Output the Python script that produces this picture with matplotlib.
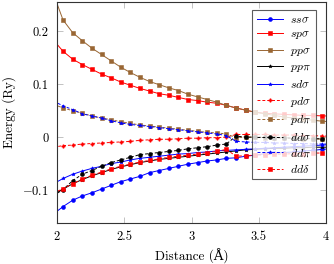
import matplotlib
matplotlib.use('Agg')
import matplotlib.pyplot as plt

plt.rcParams['font.family'] = 'serif'
plt.rcParams['font.serif'] = ['cmr10', 'DejaVu Serif']
plt.rcParams['mathtext.fontset'] = 'cm'
plt.rcParams['axes.unicode_minus'] = False
plt.rcParams['axes.formatter.use_mathtext'] = True

# distances (Angstrom)
dist = [1.974, 2.045, 2.117, 2.188, 2.259, 2.331, 2.402, 2.474, 2.545, 2.616,
        2.688, 2.759, 2.831, 2.902, 2.974, 3.045, 3.116, 3.188, 3.259, 3.331,
        3.402, 3.474, 3.545, 3.616, 3.688, 3.759, 3.831, 3.902, 3.973, 4.045]

# Slater-Koster energies (Ry)
ss_sigma = [-0.145, -0.131, -0.119, -0.111, -0.105, -0.098, -0.091, -0.084, -0.079, -0.074,
            -0.067, -0.063, -0.059, -0.055, -0.051, -0.048, -0.045, -0.043, -0.040, -0.039,
            -0.036, -0.034, -0.031, -0.030, -0.029, -0.028, -0.026, -0.025, -0.023, -0.022]
sp_sigma = [0.183, 0.162, 0.147, 0.137, 0.128, 0.119, 0.112, 0.104, 0.098, 0.092,
            0.087, 0.082, 0.079, 0.075, 0.071, 0.069, 0.066, 0.064, 0.060, 0.055,
            0.051, 0.047, 0.045, 0.044, 0.043, 0.042, 0.041, 0.041, 0.040, 0.040]
pp_sigma = [0.270, 0.221, 0.197, 0.182, 0.168, 0.156, 0.144, 0.132, 0.122, 0.113,
            0.105, 0.099, 0.093, 0.088, 0.081, 0.076, 0.071, 0.066, 0.060, 0.055,
            0.051, 0.047, 0.044, 0.041, 0.038, 0.036, 0.034, 0.032, 0.030, 0.029]
pp_pi = [-0.108, -0.098, -0.088, -0.080, -0.073, -0.067, -0.061, -0.056, -0.052, -0.048,
         -0.045, -0.042, -0.040, -0.038, -0.036, -0.034, -0.032, -0.030, -0.028, -0.026,
         -0.024, -0.023, -0.022, -0.021, -0.021, -0.020, -0.020, -0.019, -0.019, -0.019]
sd_sigma = [-0.088, -0.078, -0.070, -0.064, -0.059, -0.055, -0.050, -0.047, -0.043, -0.040,
            -0.038, -0.036, -0.034, -0.032, -0.031, -0.029, -0.028, -0.026, -0.025, -0.024,
            -0.023, -0.022, -0.021, -0.020, -0.019, -0.018, -0.017, -0.016, -0.015, -0.014]
pd_sigma = [-0.019, -0.016, -0.015, -0.013, -0.012, -0.011, -0.010, -0.009, -0.008, -0.006,
            -0.005, -0.004, -0.004, -0.003, -0.002, -0.002, -0.001, -0.001, 0.000, 0.005,
            0.005, 0.005, 0.005, 0.004, 0.004, 0.004, 0.003, 0.003, 0.002, 0.002]
pd_pi = [0.062, 0.055, 0.050, 0.045, 0.040, 0.036, 0.033, 0.029, 0.026, 0.023,
         0.021, 0.019, 0.017, 0.015, 0.013, 0.011, 0.009, 0.008, 0.006, -0.001,
         0.000, 0.000, -0.001, -0.001, -0.002, -0.002, -0.003, -0.003, -0.004, -0.004]
dd_sigma = [-0.110, -0.099, -0.082, -0.070, -0.063, -0.055, -0.048, -0.043, -0.038, -0.033,
            -0.031, -0.029, -0.027, -0.025, -0.022, -0.020, -0.018, -0.015, -0.013, 0.002,
            0.000, 0.000, 0.000, -0.001, -0.001, -0.002, -0.002, -0.003, -0.003, -0.003]
dd_pi = [0.068, 0.059, 0.052, 0.044, 0.040, 0.036, 0.031, 0.027, 0.024, 0.022,
         0.020, 0.018, 0.016, 0.014, 0.012, 0.010, 0.008, 0.006, 0.003, -0.008,
         -0.009, -0.010, -0.010, -0.011, -0.011, -0.012, -0.012, -0.013, -0.013, -0.013]
dd_delta = [-0.106, -0.097, -0.088, -0.079, -0.072, -0.066, -0.060, -0.055, -0.051, -0.047,
            -0.044, -0.041, -0.038, -0.036, -0.034, -0.032, -0.029, -0.027, -0.023, -0.036,
            -0.035, -0.034, -0.033, -0.032, -0.032, -0.031, -0.031, -0.030, -0.030, -0.030]

brown = (0.6, 0.4, 0.2)
series = [
    (ss_sigma, r'$ss\sigma$', 'blue', '-', 'o', 2.8),
    (sp_sigma, r'$sp\sigma$', 'red', '-', 's', 2.6),
    (pp_sigma, r'$pp\sigma$', brown, '-', 's', 2.5),
    (pp_pi, r'$pp\pi$', 'black', '-', '*', 2.6),
    (sd_sigma, r'$sd\sigma$', 'blue', '-', '*', 2.6),
    (pd_sigma, r'$pd\sigma$', 'red', '--', 'P', 2.4),
    (pd_pi, r'$pd\pi$', brown, '--', 's', 2.6),
    (dd_sigma, r'$dd\sigma$', 'black', '--', 'o', 2.8),
    (dd_pi, r'$dd\pi$', 'blue', '--', '*', 2.6),
    (dd_delta, r'$dd\delta$', 'red', '--', 's', 2.4),
]

fig = plt.figure(figsize=(3.34, 2.64), dpi=100)
ax = fig.add_axes([57 / 334, 1 - 223 / 264, 269 / 334, 221 / 264])

for vals, lab, col, ls, mk, ms in series:
    ax.plot(dist, vals, color=col, linestyle=ls, marker=mk, markersize=ms,
            markeredgewidth=0.4, linewidth=0.7, label=lab,
            dashes=(3, 2) if ls == '--' else (None, None))

ax.set_xlim(2, 4)
ax.set_ylim(-0.162, 0.255)
ax.set_xticks([2, 2.5, 3, 3.5, 4])
ax.set_xticklabels(['2', '2.5', '3', '3.5', '4'])
ax.set_yticks([-0.1, 0, 0.1, 0.2])
ax.set_yticklabels(['$-0.1$', '0', '0.1', '0.2'])
ax.tick_params(direction='in', length=4, width=0.5, color='#aaaaaa',
               top=True, right=True, labelsize=9, pad=6)
for sp in ax.spines.values():
    sp.set_linewidth(0.8)
    sp.set_color('#333333')

ax.set_xlabel('Distance (Å)', fontsize=9.5, family=['cmr10', 'DejaVu Serif'])
ax.set_ylabel('Energy (Ry)', fontsize=9.5)

leg = ax.legend(loc='upper right', bbox_to_anchor=(0.985, 0.99), fontsize=8.5,
                frameon=True, fancybox=False, edgecolor='#333333',
                handlelength=2.2, labelspacing=0.35, borderpad=0.4,
                handletextpad=0.6)
leg.get_frame().set_linewidth(0.8)

fig.savefig('out.png', dpi=100)
